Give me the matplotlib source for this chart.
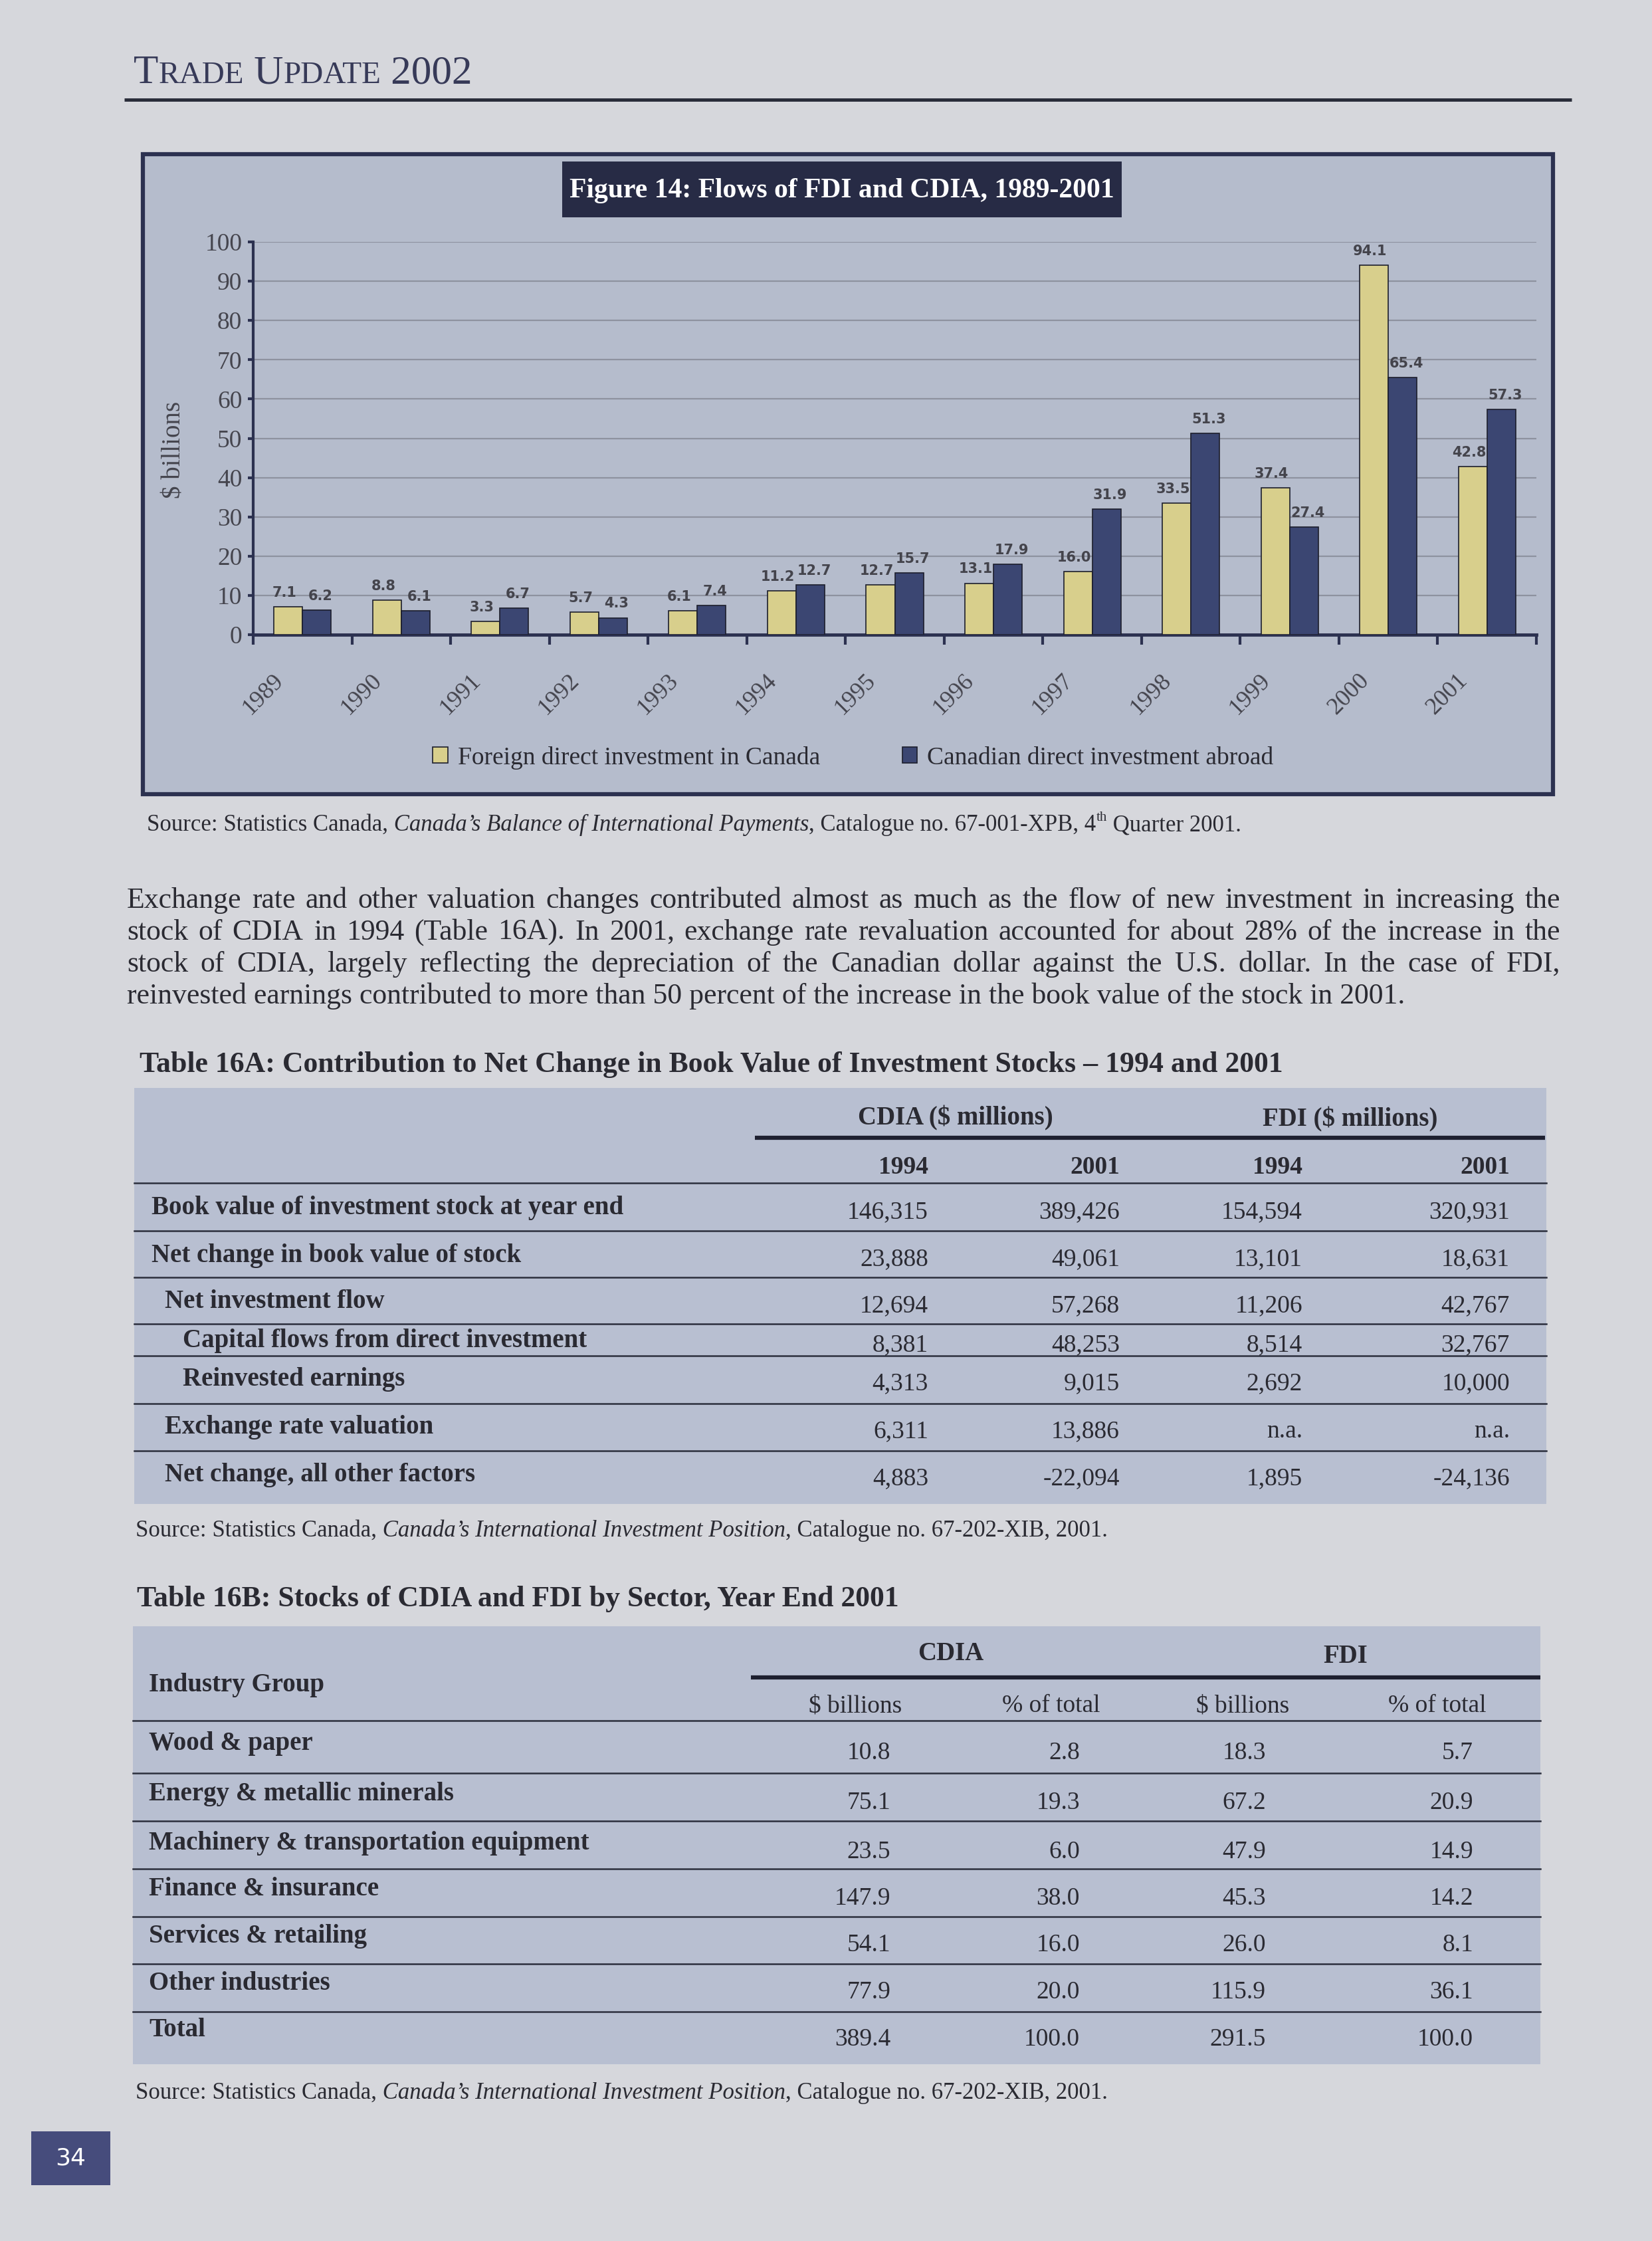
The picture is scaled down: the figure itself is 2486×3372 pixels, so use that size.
import matplotlib
matplotlib.use("Agg")
import matplotlib.pyplot as plt
from matplotlib.patches import Rectangle, Patch
import numpy as np

SERIF = "Liberation Serif"
SANS = "DejaVu Sans"
plt.rcParams["font.family"] = [SERIF, "DejaVu Sans"]

# ---- Figure 14 data ($ billions)
years = ["1989", "1990", "1991", "1992", "1993", "1994", "1995",
         "1996", "1997", "1998", "1999", "2000", "2001"]
fdi = [7.1, 8.8, 3.3, 5.7, 6.1, 11.2, 12.7, 13.1, 16.0, 33.5, 37.4, 94.1, 42.8]
cdia = [6.2, 6.1, 6.7, 4.3, 7.4, 12.7, 15.7, 17.9, 31.9, 51.3, 27.4, 65.4, 57.3]
series_names = ["Foreign direct investment in Canada",
                "Canadian direct investment abroad"]

# ---- Table 16A ($ millions)
rows_16a = ["Book value of investment stock at year end",
            "Net change in book value of stock",
            "Net investment flow",
            "Capital flows from direct investment",
            "Reinvested earnings",
            "Exchange rate valuation",
            "Net change, all other factors"]
indent_16a = [0, 0, 1, 2, 2, 1, 1]
cdia_1994 = [146315, 23888, 12694, 8381, 4313, 6311, 4883]
cdia_2001 = [389426, 49061, 57268, 48253, 9015, 13886, -22094]
fdi_1994 = [154594, 13101, 11206, 8514, 2692, None, 1895]
fdi_2001 = [320931, 18631, 42767, 32767, 10000, None, -24136]

# ---- Table 16B ($ billions / % of total)
sectors = ["Wood & paper", "Energy & metallic minerals",
           "Machinery & transportation equipment", "Finance & insurance",
           "Services & retailing", "Other industries", "Total"]
cdia_bn = [10.8, 75.1, 23.5, 147.9, 54.1, 77.9, 389.4]
cdia_pct = [2.8, 19.3, 6.0, 38.0, 16.0, 20.0, 100.0]
fdi_bn = [18.3, 67.2, 47.9, 45.3, 26.0, 115.9, 291.5]
fdi_pct = [5.7, 20.9, 14.9, 14.2, 8.1, 36.1, 100.0]

paragraph = [
    "Exchange rate and other valuation changes contributed almost as much as the flow of new investment in increasing the",
    "stock of CDIA in 1994 (Table 16A). In 2001, exchange rate revaluation accounted for about 28% of the increase in the",
    "stock of CDIA, largely reflecting the depreciation of the Canadian dollar against the U.S. dollar. In the case of FDI,",
    "reinvested earnings contributed to more than 50 percent of the increase in the book value of the stock in 2001.",
]

# colours
PAGE = "#d6d7dc"
PANEL = "#b5bccc"
TABLE = "#b8bfd1"
NAVY = "#3b4672"
YEL = "#d8cf8c"
EDGE = "#1c1e2c"
AXIS = "#2c3150"
GRID = "#8e929f"
TEXT = "#2a2a32"
TICK = "#45454e"

W, H = 2486, 3372
fig = plt.figure(figsize=(W / 100, H / 100), dpi=100, facecolor=PAGE)
bg = fig.add_axes([0, 0, 1, 1], zorder=0)
bg.set_xlim(0, W)
bg.set_ylim(H, 0)
bg.axis("off")
r = fig.canvas.get_renderer()


def run(x, y, pieces, size, color=TEXT):
    # consecutive pieces on one baseline; spaces go at the start of a piece
    for s, st in pieces:
        fs = size * 0.6 if st == "sup" else size
        dy = -0.42 * size * 1.389 if st == "sup" else 0
        t = bg.text(x, y + dy, s, fontsize=fs, family=SERIF, color=color,
                    style="italic" if st == "it" else "normal",
                    ha="left", va="baseline")
        x += t.get_window_extent(r).width


def justify(x0, x1, y, line, size):
    words = line.split()
    ts = [bg.text(0, y, w, fontsize=size, family=SERIF, color=TEXT,
                  ha="left", va="baseline") for w in words]
    widths = [t.get_window_extent(r).width for t in ts]
    gap = (x1 - x0 - sum(widths)) / (len(words) - 1)
    x = x0
    for t, w in zip(ts, widths):
        t.set_x(x)
        x += w + gap


# header
hdr = "#373a58"
run_x = 201
for s, big in [("T", True), ("RADE", False), (" U", True), ("PDATE", False), (" 2002", True)]:
    t = bg.text(run_x, 125, s, fontsize=44 if big else 34, family=SERIF,
                color=hdr, ha="left", va="baseline")
    run_x += t.get_window_extent(r).width
bg.plot([187, 2365], [150, 150], color="#2a2d3a", lw=3.6, solid_capstyle="butt")

# chart panel
bg.add_patch(Rectangle((215, 232), 2337 - 215, 1195 - 232, fc=PANEL,
                       ec=AXIS, lw=4.5))
bg.add_patch(Rectangle((846, 243), 842, 84, fc="#272b45", ec="none"))
bg.text(1267, 287, "Figure 14: Flows of FDI and CDIA, 1989-2001", color="white",
        fontsize=30, fontweight="bold", ha="center", va="center")

ax = fig.add_axes([381 / W, 1 - 955 / H, (2312 - 381) / W, (955 - 364) / H], zorder=2)
ax.patch.set_visible(False)
x = np.arange(len(years))
bw = 0.29
ax.bar(x - bw / 2, fdi, bw, color=YEL, edgecolor=EDGE, linewidth=1.2, zorder=3)
ax.bar(x + bw / 2, cdia, bw, color=NAVY, edgecolor=EDGE, linewidth=1.2, zorder=3)
ax.set_xlim(-0.5, len(years) - 0.5)
ax.set_ylim(0, 100)
ax.set_yticks(range(0, 101, 10))
ax.yaxis.grid(True, color=GRID, lw=1.6)
ax.set_axisbelow(True)
for s in ["top", "right"]:
    ax.spines[s].set_visible(False)
ax.spines["left"].set(color=AXIS, lw=3)
ax.spines["bottom"].set(color=AXIS, lw=3.5)
ax.tick_params(axis="y", length=6, width=3, color=AXIS, pad=6,
               labelsize=27, labelcolor=TICK)
ax.set_xticks(x - 0.15, years, rotation=45, ha="right", va="top")
ax.tick_params(axis="x", which="major", length=0, pad=38, labelsize=26,
               labelcolor=TICK)
ax.set_xticks(np.arange(-0.5, len(years), 1), minor=True)
ax.tick_params(axis="x", which="minor", length=11, width=3, color=AXIS)
ax.set_ylabel("$ billions", fontsize=28, color=TICK)
ax.yaxis.set_label_coords(-0.052, 0.47)

# value labels: FDI nudged left, CDIA nudged right so neighbours do not collide
for xs, vals, dx in [(x - bw / 2, fdi, -4), (x + bw / 2, cdia, 4)]:
    for xi, v in zip(xs, vals):
        ax.annotate(f"{v:.1f}", (xi, v), xytext=(dx, 8), textcoords="offset points",
                    ha="center", va="bottom", fontsize=15, fontweight="bold",
                    family=SANS, color="#44444c", annotation_clip=False)

fig.legend(handles=[Patch(fc=YEL, ec=EDGE, lw=1.2), Patch(fc=NAVY, ec=EDGE, lw=1.2)],
           labels=series_names, loc="center",
           bbox_to_anchor=(1284 / W, 1 - 1140 / H), ncol=2, frameon=False,
           fontsize=27, handlelength=0.6, handleheight=0.6, handletextpad=0.4,
           columnspacing=3.3, labelcolor=TEXT)

# source under chart
run(221, 1250, [("Source: Statistics Canada,", "rm"),
                (" Canada\u2019s Balance of International Payments", "it"),
                (", Catalogue no. 67-001-XPB, 4", "rm"), ("th", "sup"),
                (" Quarter 2001.", "rm")], 25)

# paragraph (justified)
para_y = [1366, 1414, 1462, 1510]
for i, (line, y) in enumerate(zip(paragraph, para_y)):
    if i < len(paragraph) - 1:
        justify(191, 2348, y, line, 31.5)
    else:
        bg.text(191, y, line, fontsize=31.5, color=TEXT, ha="left", va="baseline")

# ---- Table 16A
bg.text(210, 1602, "Table 16A: Contribution to Net Change in Book Value of Investment Stocks \u2013 1994 and 2001",
        fontsize=31.5, fontweight="bold", color=TEXT, ha="left", va="center")
bg.add_patch(Rectangle((202, 1637), 2327 - 202, 2263 - 1637, fc=TABLE, ec="none"))
bg.text(1438, 1682, "CDIA ($ millions)", fontsize=28, fontweight="bold", color=TEXT,
        ha="center", va="center")
bg.text(2032, 1684, "FDI ($ millions)", fontsize=28, fontweight="bold", color=TEXT,
        ha="center", va="center")
bg.plot([1136, 2325], [1712, 1712], color="#1e2030", lw=4.5, solid_capstyle="butt")
cols_16a = [1397, 1685, 1960, 2272]
for cx, yr in zip(cols_16a, ["1994", "2001", "1994", "2001"]):
    bg.text(cx, 1756, yr, fontsize=27, fontweight="bold", color=TEXT, ha="right", va="center")
rows_y_16a = [1821, 1892, 1962, 2021, 2079, 2151, 2222]
lines_16a = [1780, 1852, 1922, 1992, 2040, 2112, 2183]
indent_x = [228, 248, 275]
for yl in lines_16a:
    bg.plot([202, 2327], [yl, yl], color="#2c2f3d", lw=1.8)
for i, lab in enumerate(rows_16a):
    y = rows_y_16a[i]
    bg.text(indent_x[indent_16a[i]], y - 3, lab, fontsize=28, fontweight="bold",
            color=TEXT, ha="left", va="center")
    for cx, col in zip(cols_16a, [cdia_1994, cdia_2001, fdi_1994, fdi_2001]):
        v = col[i]
        s = "n.a." if v is None else f"{v:,}"
        bg.text(cx, y + 3, s, fontsize=27, color=TEXT, ha="right", va="center")
run(204, 2312, [("Source: Statistics Canada,", "rm"),
                (" Canada\u2019s International Investment Position", "it"),
                (", Catalogue no. 67-202-XIB, 2001.", "rm")], 25)

# ---- Table 16B
bg.text(206, 2406, "Table 16B: Stocks of CDIA and FDI by Sector, Year End 2001",
        fontsize=31.5, fontweight="bold", color=TEXT, ha="left", va="center")
bg.add_patch(Rectangle((200, 2447), 2318 - 200, 3106 - 2447, fc=TABLE, ec="none"))
bg.text(1431, 2489, "CDIA", fontsize=28, fontweight="bold", color=TEXT, ha="center", va="center")
bg.text(2025, 2492, "FDI", fontsize=28, fontweight="bold", color=TEXT, ha="center", va="center")
bg.plot([1130, 2318], [2524, 2524], color="#1e2030", lw=4.5, solid_capstyle="butt")
bg.text(224, 2535, "Industry Group", fontsize=28, fontweight="bold", color=TEXT,
        ha="left", va="center")
for cx, s in zip([1287, 1582, 1870, 2163], ["$ billions", "% of total", "$ billions", "% of total"]):
    bg.text(cx, 2567, s, fontsize=27, color=TEXT, ha="center", va="center")
cols_16b = [1340, 1625, 1905, 2217]
rows_y_16b = [2631, 2706, 2780, 2850, 2920, 2991, 3062]
lines_16b = [2589, 2668, 2740, 2812, 2884, 2955, 3027]
for yl in lines_16b:
    bg.plot([200, 2318], [yl, yl], color="#2c2f3d", lw=1.8)
for i, lab in enumerate(sectors):
    y = rows_y_16b[i]
    bg.text(224, y - 7, lab, fontsize=28, fontweight="bold", color=TEXT,
            ha="left", va="center")
    for cx, col in zip(cols_16b, [cdia_bn, cdia_pct, fdi_bn, fdi_pct]):
        bg.text(cx, y + 7, f"{col[i]:.1f}", fontsize=27, color=TEXT, ha="right", va="center")
run(204, 3158, [("Source: Statistics Canada,", "rm"),
                (" Canada\u2019s International Investment Position", "it"),
                (", Catalogue no. 67-202-XIB, 2001.", "rm")], 25)

# page number
bg.add_patch(Rectangle((47, 3207), 119, 81, fc="#464c7c", ec="none"))
bg.text(106, 3248, "34", color="white", fontsize=26, family=SANS, ha="center", va="center")

fig.savefig("out.png", dpi=100, facecolor=PAGE)
